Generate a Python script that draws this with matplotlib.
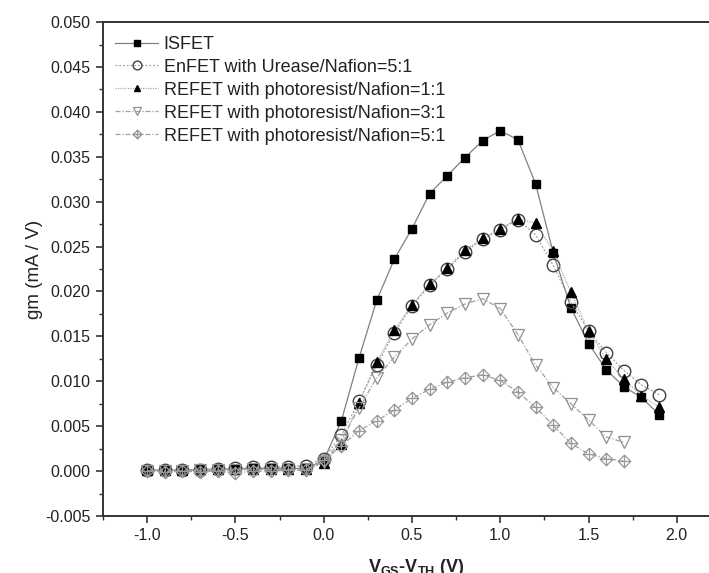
import matplotlib
matplotlib.use("Agg")
import matplotlib.pyplot as plt
from matplotlib.path import Path
from matplotlib.ticker import MultipleLocator

plt.rcParams['font.family'] = ['Liberation Sans', 'DejaVu Sans']
plt.rcParams['mathtext.fontset'] = 'custom'
plt.rcParams['mathtext.rm'] = 'Liberation Sans'
plt.rcParams['mathtext.bf'] = 'Liberation Sans:bold'

# gate overdrive voltage (V)
x_long = [-1.0, -0.9, -0.8, -0.7, -0.6, -0.5, -0.4, -0.3, -0.2, -0.1,
          0.0, 0.1, 0.2, 0.3, 0.4, 0.5, 0.6, 0.7, 0.8, 0.9,
          1.0, 1.1, 1.2, 1.3, 1.4, 1.5, 1.6, 1.7, 1.8, 1.9]
x_short = x_long[:28]

# transconductance gm (mA/V)
isfet = [0.0001, 0.0001, 0.0001, 0.0002, 0.0002, 0.0002, 0.0003, 0.0003, 0.0003, 0.0003,
         0.0012, 0.0056, 0.0126, 0.0190, 0.0236, 0.0270, 0.0309, 0.0329, 0.0349, 0.0368,
         0.0379, 0.0369, 0.0320, 0.0243, 0.0182, 0.0142, 0.0113, 0.0094, 0.0082, 0.0063]
enfet = [0.0001, 0.0001, 0.0001, 0.0001, 0.0002, 0.0003, 0.0004, 0.0004, 0.0005, 0.0006,
         0.0014, 0.0040, 0.0078, 0.0118, 0.0154, 0.0184, 0.0207, 0.0225, 0.0244, 0.0258,
         0.0269, 0.0280, 0.0263, 0.0229, 0.0188, 0.0156, 0.0132, 0.0112, 0.0096, 0.0085]
refet_11 = [0.0001, 0.0001, 0.0001, 0.0002, 0.0002, 0.0002, 0.0002, 0.0002, 0.0002, 0.0002,
            0.0009, 0.0030, 0.0076, 0.0121, 0.0157, 0.0185, 0.0208, 0.0226, 0.0246, 0.0259,
            0.0270, 0.0281, 0.0276, 0.0245, 0.0199, 0.0156, 0.0125, 0.0102, 0.0084, 0.0071]
refet_31 = [0.0000, 0.0000, 0.0000, 0.0001, 0.0001, 0.0001, 0.0002, 0.0002, 0.0002, 0.0002,
            0.0010, 0.0035, 0.0070, 0.0104, 0.0127, 0.0147, 0.0163, 0.0176, 0.0186, 0.0192,
            0.0181, 0.0152, 0.0118, 0.0093, 0.0075, 0.0057, 0.0038, 0.0032]
refet_51 = [0.0000, -0.0001, 0.0000, -0.0001, 0.0000, -0.0002, 0.0000, 0.0000, 0.0001, 0.0001,
            0.0012, 0.0028, 0.0045, 0.0056, 0.0068, 0.0081, 0.0091, 0.0099, 0.0104, 0.0107,
            0.0101, 0.0088, 0.0071, 0.0051, 0.0031, 0.0019, 0.0014, 0.0011]

labels = ['ISFET', 'EnFET with Urease/Nafion=5:1', 'REFET with photoresist/Nafion=1:1',
          'REFET with photoresist/Nafion=3:1', 'REFET with photoresist/Nafion=5:1']

# crossed diamond marker
verts = [(0, 1), (1, 0), (0, -1), (-1, 0), (0, 1), (0, 1), (0, -1), (-1, 0), (1, 0)]
codes = [Path.MOVETO, Path.LINETO, Path.LINETO, Path.LINETO, Path.CLOSEPOLY,
         Path.MOVETO, Path.LINETO, Path.MOVETO, Path.LINETO]
cross_diamond = Path(verts, codes)

fig = plt.figure(figsize=(7.09, 5.73), dpi=100)
ax = fig.add_axes([0.1453, 0.0995, 0.884, 0.862])

ax.plot(x_long, isfet, color='#808080', lw=0.9, ls='-', marker='s', ms=5.5,
        mfc='black', mec='black', label=labels[0])
ax.plot(x_long, enfet, color='#a0a0a0', lw=0.9, ls=(0, (1.5, 1.5)), marker='o', ms=9,
        mfc='none', mec='#404040', mew=1.0, label=labels[1])
ax.plot(x_long, refet_11, color='#a8a8a8', lw=0.9, ls=(0, (1, 1)), marker='^', ms=6.5,
        mfc='black', mec='black', label=labels[2])
ax.plot(x_short, refet_31, color='#a0a0a0', lw=0.9, ls=(0, (4, 1.5, 1, 1.5)), marker='v', ms=8,
        mfc='none', mec='#909090', mew=0.9, label=labels[3])
ax.plot(x_short, refet_51, color='#a0a0a0', lw=0.9, ls=(0, (4, 1.5, 1, 1.5)), marker=cross_diamond, ms=9,
        mfc='none', mec='#999999', mew=0.9, label=labels[4])

ax.set_xlim(-1.25, 2.3)
ax.set_ylim(-0.005, 0.050)
ax.xaxis.set_major_locator(MultipleLocator(0.5))
ax.xaxis.set_minor_locator(MultipleLocator(0.25))
ax.yaxis.set_major_locator(MultipleLocator(0.005))
ax.yaxis.set_minor_locator(MultipleLocator(0.0025))
ax.xaxis.set_major_formatter(matplotlib.ticker.FormatStrFormatter('%.1f'))
ax.yaxis.set_major_formatter(matplotlib.ticker.FormatStrFormatter('%.3f'))

for s in ax.spines.values():
    s.set_color('#333333')
    s.set_linewidth(1.4)
ax.tick_params(which='major', direction='out', length=5, width=1.2, color='#333333',
               labelsize=11.5, pad=4, labelcolor='#222222')
ax.tick_params(which='minor', direction='out', length=3, width=1.0, color='#333333')

ax.set_ylabel('gm (mA / V)', fontsize=13.5, color='#222222')
ax.yaxis.set_label_coords(-0.095, 0.5)
ax.set_xlabel(r'V$_{\mathbf{GS}}$-V$_{\mathbf{TH}}$ (V)', fontsize=13, fontweight='bold',
              labelpad=10, color='#222222')

leg = ax.legend(loc='upper left', bbox_to_anchor=(-0.007, 1.005), frameon=False, fontsize=13,
                handlelength=2.4, handletextpad=0.3, labelspacing=0.33, borderaxespad=0.5,
                markerscale=0.7)
for t in leg.get_texts():
    t.set_color('#222222')

fig.savefig('out.png', dpi=100)
